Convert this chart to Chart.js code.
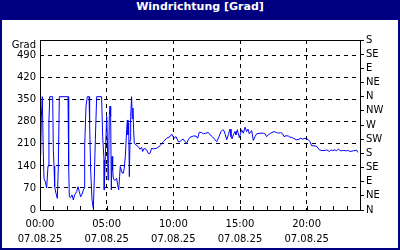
<!DOCTYPE html>
<html>
<head>
<meta charset="utf-8">
<script src="https://cdn.jsdelivr.net/npm/chart.js@4/dist/chart.umd.min.js"></script>
<style>
  body { margin: 0; background: #fff; }
  #wrap { width: 400px; height: 250px; box-sizing: border-box; border: 2px solid #000080; border-top: none; background: #fff; }
  #titel { height: 20px; line-height: 20px; background: #000080; color: #fff; text-align: center;
           font: bold 11px "DejaVu Sans", sans-serif; }
  #box { width: 396px; height: 228px; position: relative; }
</style>
</head>
<body>
<div id="wrap">
  <div id="titel">Windrichtung [Grad]</div>
  <div id="box"><canvas id="graph"></canvas></div>
</div>
<script>
// Zeitpunkte (Stunden ab 00:00) und Windrichtung in Grad
const stunden = [
  0.05, 0.1, 0.17, 0.25, 0.3, 0.4, 0.5, 0.6, 0.67, 0.73, 0.95, 1.0, 1.05, 1.1, 1.2, 1.3, 1.37, 1.45,
  2.1, 2.15, 2.2, 2.3, 2.4, 2.5, 2.6, 2.75, 2.85, 2.95, 3.05, 3.15, 3.3, 3.35, 3.45, 3.55, 3.68,
  3.72, 3.8, 3.9, 4.0, 4.07, 4.15, 4.25, 4.62, 4.7, 4.8, 4.82, 4.9, 5.0, 5.05, 5.1, 5.15, 5.2,
  5.25, 5.3, 5.35, 5.4, 5.45, 5.5, 5.57, 5.65, 5.75, 5.82, 5.9, 5.97, 6.02, 6.1, 6.17, 6.25,
  6.32, 6.4, 6.5, 6.55, 6.6, 6.65, 6.7, 6.75, 6.8, 6.87, 6.92, 6.97, 7.02, 7.07, 7.2, 7.37, 7.5,
  7.62, 7.7, 7.82, 8.0, 8.12, 8.25, 8.375, 8.5, 8.75, 9.0, 9.25, 9.5, 9.75, 9.875, 10.05, 10.2,
  10.375, 10.5, 10.625, 10.75, 10.875, 11.0, 11.125, 11.25, 11.5, 11.7, 11.825, 11.95, 12.125,
  12.25, 12.425, 12.625, 12.75, 12.925, 13.125, 13.25, 13.425, 13.575, 13.7, 13.8, 13.9, 14.0,
  14.125, 14.25, 14.325, 14.4, 14.5, 14.625, 14.7, 14.8, 14.875, 14.95, 15.05, 15.125, 15.25,
  15.375, 15.5, 15.6, 15.7, 15.8, 15.875, 16.0, 16.125, 16.25, 16.5, 16.75, 16.875, 17.0, 17.125,
  17.375, 17.55, 17.75, 17.875, 18.05, 18.2, 18.3, 18.45, 18.625, 18.75, 18.875, 19.0, 19.25,
  19.425, 19.55, 19.7, 19.875, 20.0, 20.125, 20.25, 20.375, 20.55, 20.75, 20.95, 21.125, 21.375,
  21.5, 21.7, 21.825, 21.95, 22.125, 22.25, 22.375, 22.5, 22.625, 22.75, 23.0, 23.125, 23.25,
  23.5, 23.75, 23.83
];
const richtung = [
  175, 296, 360, 175, 100, 90, 70, 140, 281, 360, 360, 190, 140, 74, 53, 37, 130, 360,
  360, 140, 42, 40, 48, 32, 48, 58, 74, 58, 42, 50, 69, 200, 330, 360, 360,
  276, 127, 32, 5, 95, 223, 360, 360, 233, 159, 64, 170, 297, 233, 95, 148, 300,
  330, 297, 64, 170, 127, 101, 95, 95, 101, 80, 64, 106, 138, 127, 117, 117,
  133, 170, 255, 286, 239, 276, 106, 222, 297, 360, 290, 324, 255, 212, 207, 201, 193,
  199, 186, 196, 191, 180, 180, 196, 194, 196, 204, 217, 228, 233, 241, 228, 233,
  217, 217, 223, 225, 217, 212, 223, 231, 235, 235, 228, 247, 246,
  242, 244, 246, 239, 233, 223, 217, 233, 249, 255, 252, 239, 223,
  239, 257, 233, 226, 239, 249, 239, 255, 242, 230, 244, 255, 244,
  263, 249, 257, 242, 249, 252, 221, 233, 242, 244, 244, 242, 233, 239,
  246, 249, 246, 244, 246, 242, 233, 236, 235, 231, 231, 228, 223,
  225, 228, 225, 228, 225, 223, 217, 204, 204, 202, 191, 189, 189,
  191, 186, 191, 189, 191, 188, 194, 189, 188, 189, 188, 189, 186,
  188, 190, 183
];

// Achsenbeschriftungen
const gradTicks = [0, 70, 140, 210, 280, 350, 420, 490];
const gradLabelPos = 522;
const himmelsrichtungen = ['N', 'NE', 'E', 'SE', 'S', 'SW', 'W', 'NW', 'N', 'NE', 'E', 'SE', 'S'];
const uhrzeiten = ['00:00', '05:00', '10:00', '15:00', '20:00'];
const datum = '07.08.25';

const schrift = { family: 'DejaVu Sans', size: 10 };
const strich = [4, 4];

// Rahmen um den Plotbereich und kleine Stundenstriche nach innen
const rahmenPlugin = {
  id: 'rahmen',
  afterDraw(chart) {
    const ctx = chart.ctx;
    const a = chart.chartArea;
    const x = chart.scales.x;
    ctx.save();
    ctx.strokeStyle = '#000';
    ctx.lineWidth = 1;
    ctx.strokeRect(Math.round(a.left) + 0.5, Math.round(a.top) + 0.5,
      Math.round(a.right - a.left), Math.round(a.bottom - a.top));
    ctx.beginPath();
    for (let h = 1; h < 24; h++) {
      const px = Math.round(x.getPixelForValue(h)) + 0.5;
      ctx.moveTo(px, a.bottom);
      ctx.lineTo(px, a.bottom - 4);
    }
    ctx.stroke();
    ctx.restore();
  }
};

const punkte = stunden.map((h, i) => ({ x: h, y: richtung[i] }));

new Chart(document.getElementById('graph').getContext('2d'), {
  type: 'line',
  data: {
    datasets: [{
      data: punkte,
      borderColor: '#0000ff',
      borderWidth: 1,
      pointRadius: 0,
      tension: 0,
      yAxisID: 'y'
    }]
  },
  options: {
    animation: false,
    responsive: true,
    maintainAspectRatio: false,
    layout: { padding: { top: 20, left: 0, right: 0, bottom: 0 } },
    plugins: { legend: { display: false }, tooltip: { enabled: false } },
    scales: {
      x: {
        type: 'linear',
        min: 0, max: 24,
        afterBuildTicks: s => { s.ticks = Array.from({ length: 5 }, (_, i) => ({ value: i * 5 })); },
        afterFit: s => { s.height = 38; },
        ticks: {
          autoSkip: false, maxRotation: 0, color: '#000', padding: 7,
          font: { ...schrift, lineHeight: 1.5 },
          callback: v => [uhrzeiten[v / 5], datum]
        },
        grid: { color: c => (c.tick && c.tick.value > 0) ? '#000' : 'rgba(0,0,0,0)', lineWidth: 1, drawTicks: false },
        border: { display: false, dash: strich }
      },
      y: {
        position: 'left',
        min: 0, max: 540,
        afterBuildTicks: s => { s.ticks = gradTicks.concat([gradLabelPos]).map(v => ({ value: v })); },
        afterFit: s => { s.width = 38; },
        ticks: {
          autoSkip: false, color: '#000', padding: 4, font: schrift,
          callback: v => v === gradLabelPos ? 'Grad' : v
        },
        grid: {
          color: c => (c.tick && c.tick.value > 0 && c.tick.value < gradLabelPos) ? '#000' : 'rgba(0,0,0,0)',
          lineWidth: 1,
          drawTicks: false
        },
        border: { display: false, dash: strich }
      },
      y2: {
        position: 'right',
        min: 0, max: 540,
        afterBuildTicks: s => { s.ticks = himmelsrichtungen.map((_, i) => ({ value: i * 45 })); },
        afterFit: s => { s.width = 38; },
        ticks: {
          autoSkip: false, color: '#000', padding: 2, font: schrift,
          callback: (v, i) => himmelsrichtungen[i]
        },
        grid: { drawOnChartArea: false, color: '#000', tickLength: 4 },
        border: { display: false }
      }
    }
  },
  plugins: [rahmenPlugin]
});
</script>
</body>
</html>
